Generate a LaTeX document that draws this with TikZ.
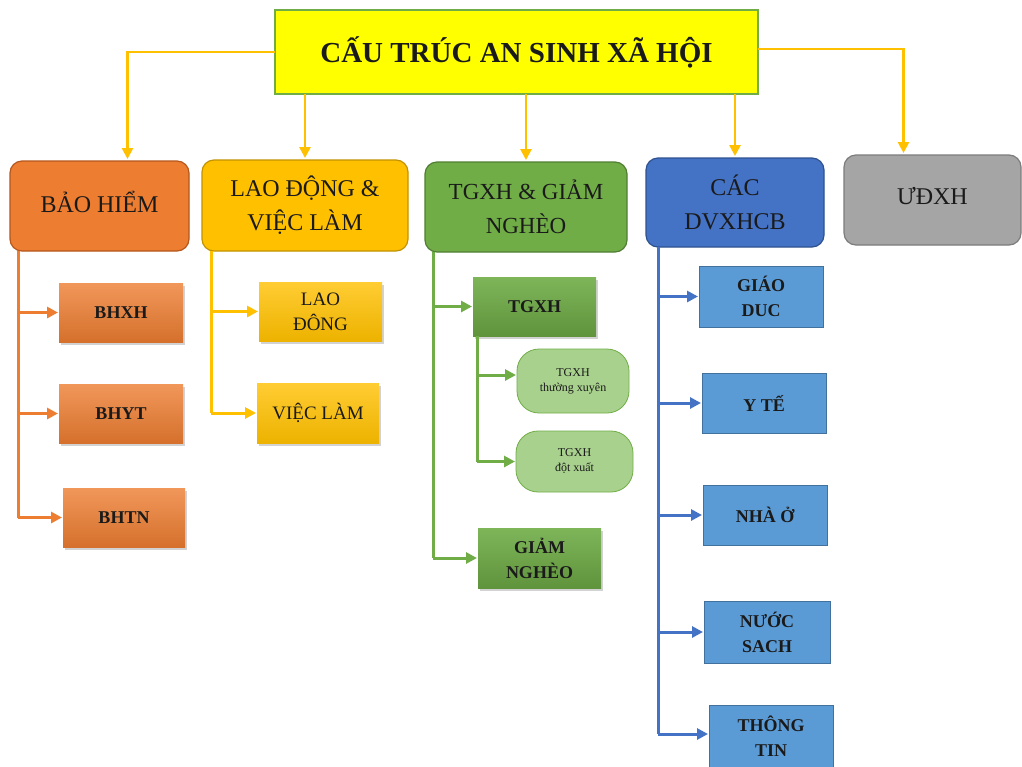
\documentclass[tikz,border=0pt]{standalone}
\usepackage{fontspec}
\setmainfont{Liberation Serif}
\usetikzlibrary{arrows.meta,shadows}
\definecolor{cyel}{HTML}{FFFF00}
\definecolor{cgrn}{HTML}{70AD47}
\definecolor{cgrnd}{HTML}{507E32}
\definecolor{corg}{HTML}{ED7D31}
\definecolor{corgd}{HTML}{B5571D}
\definecolor{cgold}{HTML}{FFC000}
\definecolor{cgoldd}{HTML}{C29200}
\definecolor{cblu}{HTML}{4472C4}
\definecolor{cblud}{HTML}{2F528F}
\definecolor{cgry}{HTML}{A5A5A5}
\definecolor{cgryd}{HTML}{7C7C7C}
\definecolor{cbl2}{HTML}{5B9BD5}
\definecolor{cbl2d}{HTML}{41719C}
\definecolor{clgrn}{HTML}{A9D18E}
\definecolor{ctxt}{HTML}{1A1A1A}
\tikzset{
  box/.style={inner sep=0pt, outer sep=0pt, align=center, text=ctxt},
  topbox/.style={box, draw, line width=1.2pt, rounded corners=12pt,
    font=\fontsize{24}{34}\selectfont},
  kid/.style={box, font=\bfseries\fontsize{18}{25}\selectfont,
    drop shadow={opacity=0.35, shadow xshift=2pt, shadow yshift=-3pt}},
  okid/.style={kid, top color=corg!80!white, bottom color=corg!90!black},
  gkid/.style={kid, font=\fontsize{19}{25}\selectfont, top color=cgold!80!white, bottom color=cgold!93!black},
  grkid/.style={kid, top color=cgrn!90!white, bottom color=cgrn!85!black},
  pill/.style={box, draw=cgrn, fill=clgrn, line width=0.8pt, rounded corners=22pt,
    font=\fontsize{12}{15}\selectfont},
  bkid/.style={box, draw=cbl2d, fill=cbl2, line width=0.8pt,
    font=\bfseries\fontsize{18}{25}\selectfont},
  tarr/.style={draw=cgold, line width=2.6pt, -{Triangle[length=11pt,width=11pt]}, shorten >=2pt},
  brarr/.style={line width=3pt, -{Triangle[length=11pt,width=11pt]}, shorten >=1pt},
  trunk/.style={line width=3pt}
}
\begin{document}
\begin{tikzpicture}[x=1pt,y=-1pt]
\useasboundingbox[fill=white] (0,0) rectangle (1022,766);
% title
\node[box, draw=cgrn, fill=cyel, line width=2pt, minimum width=483pt, minimum height=84pt,
  font=\bfseries\fontsize{29}{34}\selectfont] (title) at (516.5,52) {CẤU TRÚC AN SINH XÃ HỘI};
% top level
\node[topbox, fill=corg, draw=corgd, minimum width=179pt, minimum height=90pt] (bh) at (99.5,206) {\raisebox{8pt}{BẢO HIỂM}};
\node[topbox, fill=cgold, draw=cgoldd, minimum width=206pt, minimum height=91pt] (ld) at (305,205.5) {LAO ĐỘNG \&\\VIỆC LÀM};
\node[topbox, fill=cgrn, draw=cgrnd, minimum width=202pt, minimum height=90pt, font=\fontsize{23}{34}\selectfont] (tg) at (526,207) {TGXH \& GIẢM\\NGHÈO};
\node[topbox, fill=cblu, draw=cblud, minimum width=178pt, minimum height=89pt] (dv) at (735,202.5) {CÁC\\DVXHCB};
\node[topbox, fill=cgry, draw=cgryd, minimum width=177pt, minimum height=90pt] (ud) at (932.5,200) {\raisebox{9pt}{ƯĐXH}};
% title connectors
\draw[tarr] (title.west) -| ([xshift=28pt]bh.north);
\draw[tarr] (ld.north |- title.south) -- (ld.north);
\draw[tarr] (tg.north |- title.south) -- (tg.north);
\draw[tarr] (dv.north |- title.south) -- (dv.north);
\draw[tarr] ([yshift=3pt]title.east) -| ([xshift=-29pt]ud.north);
% orange branch
\node[okid, minimum width=124pt, minimum height=59pt] (bhxh) at (121,312.5) {BHXH};
\node[okid, minimum width=124pt, minimum height=59pt] (bhyt) at (121,413.5) {BHYT};
\node[okid, minimum width=122pt, minimum height=59pt] (bhtn) at (124,517.5) {BHTN};
\coordinate (ot) at ([xshift=8pt]bh.south west);
\draw[trunk, corg] (ot) -- (ot |- bhtn.west);
\draw[brarr, corg] (ot |- bhxh.west) -- (bhxh.west);
\draw[brarr, corg] (ot |- bhyt.west) -- (bhyt.west);
\draw[brarr, corg] (ot |- bhtn.west) -- (bhtn.west);
% gold branch
\node[gkid, minimum width=123pt, minimum height=59pt] (lao) at (320.5,311.5) {LAO\\ĐÔNG};
\node[gkid, minimum width=122pt, minimum height=60pt] (vl) at (318,413) {VIỆC LÀM};
\coordinate (gt) at ([xshift=9pt]ld.south west);
\draw[trunk, cgold] (gt) -- (gt |- vl.west);
\draw[brarr, cgold] (gt |- lao.west) -- (lao.west);
\draw[brarr, cgold] (gt |- vl.west) -- (vl.west);
% green branch
\node[grkid, minimum width=123pt, minimum height=59pt] (tgxh) at (534.5,306.5) {TGXH};
\node[grkid, minimum width=123pt, minimum height=60pt] (gn) at (539.5,558) {GIẢM\\NGHÈO};
\node[pill, minimum width=112pt, minimum height=64pt] (tx) at (573,381) {TGXH\\thường xuyên};
\node[pill, minimum width=117pt, minimum height=61pt] (dx) at (574.5,461.5) {TGXH\\đột xuất};
\coordinate (grt) at ([xshift=8pt]tg.south west);
\draw[trunk, cgrn] (grt) -- (grt |- gn.west);
\draw[brarr, cgrn] (grt |- tgxh.west) -- (tgxh.west);
\draw[brarr, cgrn] (grt |- gn.west) -- (gn.west);
\coordinate (it) at ([xshift=4pt]tgxh.south west);
\draw[trunk, cgrn] (it) -- (it |- dx.west);
\draw[brarr, cgrn] ([yshift=6pt]it |- tx.west) -- ([yshift=6pt]tx.west);
\draw[brarr, cgrn] (it |- dx.west) -- (dx.west);
% blue branch
\node[bkid, minimum width=124pt, minimum height=61pt] (gd) at (761,296.5) {GIÁO\\DUC};
\node[bkid, minimum width=124pt, minimum height=60pt] (yt) at (764,403) {Y TẾ};
\node[bkid, minimum width=124pt, minimum height=60pt] (no) at (765,515) {NHÀ Ở};
\node[bkid, minimum width=126pt, minimum height=62pt] (ns) at (767,632) {NƯỚC\\SACH};
\node[bkid, minimum width=124pt, minimum height=62pt] (tt) at (771,736) {THÔNG\\TIN};
\coordinate (bt) at ([xshift=12pt]dv.south west);
\draw[trunk, cblu] (bt) -- ([yshift=2pt]bt |- tt.west);
\draw[brarr, cblu] (bt |- gd.west) -- (gd.west);
\draw[brarr, cblu] (bt |- yt.west) -- (yt.west);
\draw[brarr, cblu] (bt |- no.west) -- (no.west);
\draw[brarr, cblu] (bt |- ns.west) -- (ns.west);
\draw[brarr, cblu] ([yshift=2pt]bt |- tt.west) -- ([yshift=2pt]tt.west);
\end{tikzpicture}
\end{document}
